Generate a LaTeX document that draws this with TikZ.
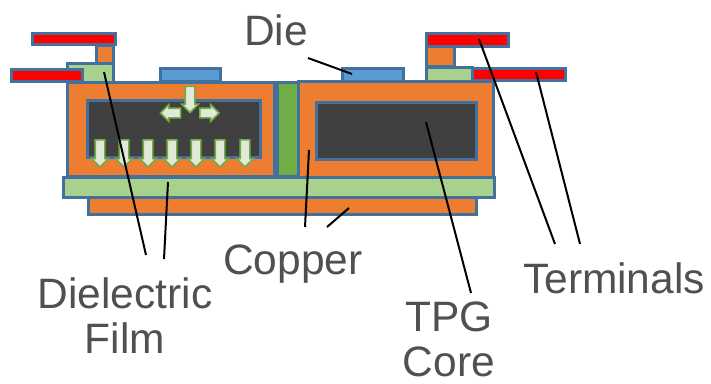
\documentclass[tikz,border=0pt]{standalone}
\usepackage{fontspec}
\setmainfont{Liberation Sans}
\usetikzlibrary{shapes.arrows}
\definecolor{edgeblue}{HTML}{41719C}
\definecolor{copperfill}{HTML}{ED7D31}
\definecolor{filmfill}{HTML}{A9D18E}
\definecolor{viafill}{HTML}{70AD47}
\definecolor{diefill}{HTML}{5B9BD5}
\definecolor{corefill}{HTML}{404040}
\definecolor{flowfill}{HTML}{E2E9DA}
\definecolor{labelgray}{HTML}{505050}
\tikzset{
  part/.style={draw=edgeblue, line width=3pt, inner sep=0pt, outer sep=0pt},
  copper/.style={part, fill=copperfill},
  film/.style={part, fill=filmfill},
  via/.style={part, fill=viafill},
  die/.style={part, fill=diefill},
  core/.style={part, fill=corefill},
  terminal/.style={part, fill=red},
  flow/.style={single arrow, draw=viafill, fill=flowfill, line width=1.6pt, inner xsep=0pt, inner ysep=4pt, outer sep=0pt,
    minimum height=27pt, single arrow head extend=3.5pt, single arrow head indent=0pt},
  label/.style={text=labelgray, font=\fontsize{42.5}{45}\selectfont, align=center, inner sep=0pt},
  leader/.style={black, line width=2pt}
}
\begin{document}
\begin{tikzpicture}[x=1pt,y=-1pt]
\useasboundingbox (0,0) rectangle (711,383);

% Film and bottom copper
\node[copper, minimum width=388pt, minimum height=18pt] (bottomcopper) at (282,205) {};
\node[film, minimum width=431pt, minimum height=20pt] (film) at (278.5,187) {};

% Left and right blocks
\node[copper, minimum width=207pt, minimum height=94pt] (copperl) at (170.5,129) {};
\node[core, minimum width=173pt, minimum height=57pt] (corel) at (173.5,128.5) {};
\node[via, minimum width=22pt, minimum height=94pt] (via) at (288,129) {};
\node[copper, minimum width=195pt, minimum height=96pt] (copperr) at (396,129) {};
\node[core, minimum width=160pt, minimum height=57pt] (corer) at (396,130.5) {};

% Dies
\node[die, minimum width=60pt, minimum height=13pt] (diel) at (190,75) {};
\node[die, minimum width=61pt, minimum height=13pt] (dier) at (372.5,74.5) {};

% Left terminals
\node[copper, minimum width=17pt, minimum height=18pt] (postl) at (104.5,54) {};
\node[film, minimum width=46pt, minimum height=19pt] (padl) at (90,72.5) {};
\node[terminal, minimum width=83pt, minimum height=11pt] (terml) at (73.5,38.5) {};
\node[terminal, minimum width=71pt, minimum height=12pt] (termll) at (46.5,75.5) {};

% Right terminals
\node[copper, minimum width=28pt, minimum height=20pt] (postr) at (440,56) {};
\node[film, minimum width=46pt, minimum height=14pt] (padr) at (449,74) {};
\node[terminal, minimum width=82pt, minimum height=13pt] (termr) at (467,39.5) {};
\node[terminal, minimum width=93pt, minimum height=12pt] (termrl) at (518.5,74) {};

% Heat flow arrows
\node[flow, rotate=-90, minimum height=26pt] (flowtop) at (190,97) {};
\node[flow, rotate=180, minimum height=20pt] (flowleft) at (173,113) {};
\node[flow, minimum height=19pt] (flowright) at (207,113) {};
\foreach \px/\name in {100/a,124/b,148/c,172/d,196/e,220/f,245/g}
  \node[flow, rotate=-90] (flow\name) at (\px,151) {};

% Labels
\node[label] (dielabel) at (276,30) {Die};
\node[label] (copperlabel) at (293,264) {Copper};
\node[label] (filmlabel) at (125,316) {Dielectric\\Film};
\node[label] (corelabel) at (449,339) {TPG\\Core};
\node[label] (termlabel) at (614,278) {Terminals};

% Leader ends
\coordinate (dieend) at (352,74);
\coordinate (diestart) at (308,58);
\coordinate (filmend) at (104,72);
\coordinate (filmendb) at (168,182);
\coordinate (filmstart) at (146,255);
\coordinate (filmstartb) at (164,259);
\coordinate (copperend) at (309,150);
\coordinate (copperendb) at (349,208);
\coordinate (copperstart) at (305,227);
\coordinate (copperstartb) at (327,227);
\coordinate (coreend) at (426,122);
\coordinate (corestart) at (471,293);
\coordinate (termend) at (479,39);
\coordinate (termendb) at (536,72);
\coordinate (termstart) at (555,244);
\coordinate (termstartb) at (580,244);

% Leaders
\draw[leader] (diestart) -- (dieend);
\draw[leader] (filmstart) -- (filmend);
\draw[leader] (filmstartb) -- (filmendb);
\draw[leader] (copperstart) -- (copperend);
\draw[leader] (copperstartb) -- (copperendb);
\draw[leader] (corestart) -- (coreend);
\draw[leader] (termstart) -- (termend);
\draw[leader] (termstartb) -- (termendb);

\end{tikzpicture}
\end{document}
